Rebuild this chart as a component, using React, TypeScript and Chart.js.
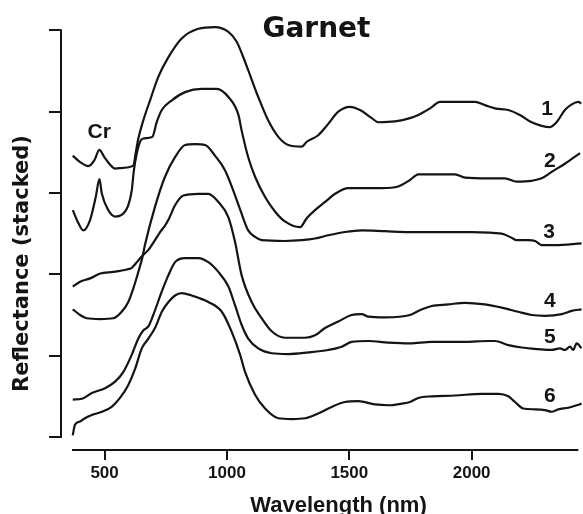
import React, { useEffect, useRef } from 'react';
import { Chart, registerables } from 'chart.js';

Chart.register(...registerables);

// ---------- data (wavelength in nm, stacked reflectance in axis units) ----------
const xTicks = [500, 1000, 1500, 2000];
const yTicks = [0, 1, 2, 3, 4, 5];
const xRange = [322, 2455];
const yRange = [-0.16, 5.25];
const xAxisSpan = [367, 2436];

const wl1 = [370, 400, 434, 458, 479, 499, 522, 543, 577, 618, 627, 638, 658, 686, 720, 761, 815, 883, 951, 1006, 1040, 1063, 1087, 1128, 1169, 1210, 1251, 1306, 1326, 1373, 1414, 1455, 1503, 1544, 1592, 1619, 1687, 1748, 1782, 1830, 1871, 1932, 2014, 2054, 2095, 2150, 2197, 2245, 2320, 2347, 2381, 2409, 2436, 2448];
const r1 = [3.46, 3.38, 3.33, 3.40, 3.53, 3.44, 3.35, 3.30, 3.31, 3.34, 3.49, 3.67, 3.89, 4.14, 4.43, 4.67, 4.90, 5.02, 5.04, 4.98, 4.86, 4.70, 4.51, 4.18, 3.89, 3.69, 3.59, 3.57, 3.63, 3.71, 3.85, 4.00, 4.06, 4.02, 3.92, 3.87, 3.88, 3.92, 3.96, 4.04, 4.12, 4.12, 4.12, 4.08, 4.04, 4.02, 3.96, 3.87, 3.81, 3.87, 4.02, 4.09, 4.12, 4.10];

const wl2 = [370, 393, 413, 441, 464, 479, 489, 515, 543, 570, 597, 611, 620, 632, 645, 658, 695, 713, 734, 775, 829, 897, 958, 1006, 1047, 1060, 1087, 1115, 1156, 1197, 1237, 1299, 1326, 1360, 1401, 1442, 1496, 1551, 1632, 1700, 1748, 1782, 1864, 1932, 1973, 2068, 2136, 2184, 2245, 2286, 2327, 2381, 2443];
const r2 = [2.79, 2.63, 2.54, 2.67, 2.95, 3.17, 2.99, 2.79, 2.71, 2.73, 2.85, 3.03, 3.28, 3.49, 3.63, 3.67, 3.69, 3.87, 4.02, 4.14, 4.24, 4.28, 4.28, 4.18, 3.96, 3.77, 3.44, 3.20, 2.95, 2.77, 2.65, 2.58, 2.69, 2.79, 2.89, 2.99, 3.06, 3.06, 3.06, 3.08, 3.16, 3.23, 3.23, 3.23, 3.19, 3.18, 3.18, 3.14, 3.15, 3.18, 3.26, 3.36, 3.49];

const wl3 = [370, 400, 427, 482, 536, 570, 597, 618, 638, 654, 665, 706, 747, 788, 829, 870, 911, 951, 992, 1026, 1057, 1087, 1115, 1142, 1237, 1306, 1360, 1414, 1482, 1551, 1646, 1748, 1864, 2000, 2123, 2163, 2184, 2231, 2259, 2286, 2340, 2449];
const r3 = [1.57, 1.50, 1.46, 1.45, 1.46, 1.54, 1.66, 1.83, 2.03, 2.20, 2.36, 2.83, 3.20, 3.44, 3.59, 3.60, 3.59, 3.46, 3.28, 3.03, 2.77, 2.54, 2.46, 2.42, 2.41, 2.42, 2.44, 2.48, 2.52, 2.54, 2.53, 2.52, 2.52, 2.52, 2.50, 2.45, 2.42, 2.42, 2.41, 2.36, 2.36, 2.38];

const wl4 = [370, 400, 441, 482, 536, 591, 611, 632, 652, 679, 706, 727, 747, 761, 788, 822, 883, 924, 965, 1006, 1033, 1060, 1101, 1142, 1183, 1237, 1319, 1360, 1401, 1455, 1510, 1551, 1578, 1646, 1748, 1782, 1837, 1904, 1973, 2054, 2123, 2190, 2245, 2300, 2368, 2409, 2449];
const r4 = [1.85, 1.91, 1.95, 2.01, 2.03, 2.06, 2.08, 2.15, 2.22, 2.30, 2.42, 2.52, 2.60, 2.67, 2.85, 2.97, 2.99, 2.99, 2.89, 2.70, 2.40, 1.99, 1.66, 1.46, 1.30, 1.22, 1.22, 1.25, 1.34, 1.42, 1.50, 1.51, 1.48, 1.47, 1.50, 1.55, 1.61, 1.63, 1.65, 1.63, 1.59, 1.54, 1.50, 1.49, 1.51, 1.55, 1.57];

const wl5 = [370, 407, 448, 502, 543, 577, 611, 638, 658, 679, 699, 734, 761, 788, 829, 883, 924, 965, 1006, 1033, 1060, 1087, 1128, 1183, 1251, 1333, 1414, 1469, 1510, 1578, 1659, 1748, 1837, 1973, 2068, 2095, 2150, 2204, 2272, 2327, 2361, 2381, 2402, 2415, 2429, 2449];
const r5 = [0.46, 0.47, 0.54, 0.60, 0.68, 0.80, 1.01, 1.21, 1.31, 1.36, 1.50, 1.79, 1.99, 2.15, 2.20, 2.20, 2.15, 2.03, 1.85, 1.62, 1.38, 1.21, 1.09, 1.03, 1.02, 1.04, 1.07, 1.11, 1.17, 1.18, 1.16, 1.15, 1.17, 1.17, 1.18, 1.18, 1.13, 1.10, 1.08, 1.07, 1.09, 1.07, 1.11, 1.07, 1.15, 1.09];

const wl6 = [370, 379, 400, 420, 448, 489, 529, 563, 597, 625, 652, 679, 706, 734, 761, 788, 815, 856, 924, 979, 1020, 1054, 1074, 1115, 1156, 1210, 1265, 1319, 1373, 1428, 1482, 1537, 1605, 1659, 1714, 1748, 1782, 1837, 1932, 2041, 2109, 2150, 2177, 2211, 2259, 2300, 2327, 2354, 2395, 2429, 2449];
const r6 = [0.02, 0.15, 0.19, 0.23, 0.27, 0.31, 0.37, 0.48, 0.64, 0.84, 1.09, 1.21, 1.34, 1.54, 1.66, 1.74, 1.77, 1.74, 1.66, 1.54, 1.29, 1.01, 0.80, 0.52, 0.35, 0.23, 0.22, 0.23, 0.29, 0.37, 0.43, 0.44, 0.40, 0.39, 0.41, 0.43, 0.48, 0.50, 0.51, 0.53, 0.53, 0.50, 0.43, 0.35, 0.34, 0.33, 0.31, 0.34, 0.36, 0.39, 0.41];

const curveNames = ['1', '2', '3', '4', '5', '6'];
const curveNameWl = [2308, 2320, 2316, 2320, 2320, 2320];
const curveNameR = [3.956, 3.317, 2.445, 1.597, 1.155, 0.43];
const chartTitle = 'Garnet';
const chartTitleAt = [1366, 4.914];
const crText = 'Cr';
const crAt = [478, 3.673];
const xTitle = 'Wavelength (nm)';
const yTitle = 'Reflectance (stacked)';

const seriesWl = [wl1, wl2, wl3, wl4, wl5, wl6];
const seriesR = [r1, r2, r3, r4, r5, r6];

// ---------- styles ----------
const INK = '#141414';
const ARIAL = '"Liberation Sans", Arial, Helvetica, sans-serif';
const WIDE = '"DejaVu Sans", Verdana, sans-serif';

const annotPlugin = {
  id: 'garnetAnnot',
  afterDraw(chart: any) {
    const { ctx, chartArea } = chart;
    const xs = chart.scales.x;
    const ys = chart.scales.y;
    ctx.save();
    ctx.strokeStyle = INK;
    ctx.lineWidth = 2;
    ctx.lineCap = 'butt';
    // detached axis lines
    ctx.beginPath();
    ctx.moveTo(xs.getPixelForValue(xAxisSpan[0]), chartArea.bottom);
    ctx.lineTo(xs.getPixelForValue(xAxisSpan[1]), chartArea.bottom);
    ctx.stroke();
    ctx.beginPath();
    ctx.moveTo(chartArea.left, ys.getPixelForValue(yTicks[0]) + 1);
    ctx.lineTo(chartArea.left, ys.getPixelForValue(yTicks[yTicks.length - 1]) - 1);
    ctx.stroke();

    ctx.fillStyle = INK;
    ctx.textAlign = 'center';
    ctx.textBaseline = 'alphabetic';
    ctx.font = `bold 28px ${WIDE}`;
    ctx.fillText(chartTitle, xs.getPixelForValue(chartTitleAt[0]), ys.getPixelForValue(chartTitleAt[1]));

    ctx.font = `bold 21px ${ARIAL}`;
    ctx.fillText(crText, xs.getPixelForValue(crAt[0]), ys.getPixelForValue(crAt[1]));
    curveNames.forEach((n, i) => {
      ctx.fillText(n, xs.getPixelForValue(curveNameWl[i]), ys.getPixelForValue(curveNameR[i]));
    });

    // axis titles
    ctx.font = `bold 22px ${ARIAL}`;
    ctx.fillText(xTitle, 338.5, 512);
    ctx.save();
    ctx.translate(23, 263.5);
    ctx.rotate(-Math.PI / 2);
    ctx.textBaseline = 'middle';
    ctx.font = `bold 21px ${WIDE}`;
    ctx.fillText(yTitle, 0, 0);
    ctx.restore();
    ctx.restore();
  },
};

export default function App() {
  const ref = useRef<HTMLCanvasElement>(null);
  useEffect(() => {
    const canvas = ref.current;
    if (!canvas) return;
    const datasets = seriesWl.map((wl, i) => ({
      label: curveNames[i],
      data: wl.slice(0, Math.min(wl.length, seriesR[i].length)).map((x, j) => ({ x, y: seriesR[i][j] })),
      borderColor: INK,
      borderWidth: 2.2,
      pointRadius: 0,
      fill: false,
      cubicInterpolationMode: 'monotone' as const,
    }));
    const chart = new Chart(canvas, {
      type: 'line',
      data: { datasets },
      options: {
        animation: false,
        responsive: false,
        events: [],
        layout: { padding: { left: 49, top: 10, right: 0, bottom: 27.6 } },
        plugins: { legend: { display: false }, tooltip: { enabled: false }, title: { display: false } },
        scales: {
          x: {
            type: 'linear',
            min: xRange[0],
            max: xRange[1],
            afterBuildTicks: (axis: any) => {
              axis.ticks = xTicks.map((value) => ({ value }));
            },
            border: { display: false },
            grid: { drawOnChartArea: false, drawTicks: true, tickLength: 10, color: INK, lineWidth: 2 },
            ticks: {
              color: INK,
              padding: 3,
              maxRotation: 0,
              autoSkip: false,
              font: { family: ARIAL, weight: 'bold', size: 17, lineHeight: 1.2 },
              callback: (v: any) => String(v),
            },
          },
          y: {
            type: 'linear',
            min: yRange[0],
            max: yRange[1],
            afterBuildTicks: (axis: any) => {
              axis.ticks = yTicks.map((value) => ({ value }));
            },
            border: { display: false },
            grid: { drawOnChartArea: false, drawTicks: true, tickLength: 12, color: INK, lineWidth: 2 },
            ticks: { display: false },
          },
        },
      },
      plugins: [annotPlugin],
    });
    return () => chart.destroy();
  }, []);
  return (
    <div style={{ position: 'fixed', left: 0, top: 0, width: 583, height: 514, background: '#fff' }}>
      <canvas ref={ref} width={583} height={514} style={{ display: 'block' }} />
    </div>
  );
}
